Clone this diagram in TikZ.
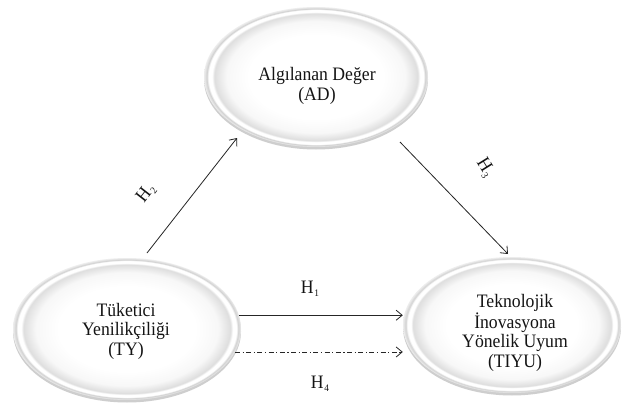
\documentclass[tikz,border=0pt]{standalone}
\usepackage{fontspec}
\setmainfont{Liberation Serif}
\newfontfamily\narrowserif[FakeStretch=0.93]{Liberation Serif}
\usetikzlibrary{shapes.geometric,arrows.meta,shadows,calc}
\pgfdeclareradialshading{ovalbevel}{\pgfpoint{0bp}{0bp}}{color(0bp)=(white); color(15bp)=(white); color(20bp)=(black!3); color(22.7bp)=(black!13); color(23.2bp)=(white); color(24bp)=(white); color(24.4bp)=(black!18); color(25bp)=(black!7); color(50bp)=(black!7)}
\newcommand{\hsub}[1]{H\kern0.6pt\raisebox{-3pt}{\fontsize{10}{10}\selectfont #1}}
\begin{document}
\begin{tikzpicture}[x=1pt,y=-1pt,
  var/.style={ellipse, inner sep=0pt, shading=ovalbevel,
    drop shadow={shadow xshift=0pt, shadow yshift=-2.5pt, fill=black!35, opacity=0.55}},
  lbl/.style={font=\narrowserif\fontsize{19}{19.5}\selectfont, align=center, text=black!92, inner sep=0pt},
  hyp/.style={font=\narrowserif\fontsize{19}{19}\selectfont, text=black!92, inner sep=0pt},
  rel/.style={draw=black!85, line width=0.8pt, -{Straight Barb[length=6pt,width=10pt]}},
  dashdot/.style={dash pattern=on 5pt off 2.5pt on 1.2pt off 2.5pt}
]
\fill[white] (0,0) rectangle (622,407);
\useasboundingbox (0,0) rectangle (622,407);

\node[var, minimum width=224pt, minimum height=140pt] (ad) at (316,77) {};
\node[var, minimum width=228pt, minimum height=142pt] (ty) at (127,329) {};
\node[var, minimum width=218pt, minimum height=136pt] (tiyu) at (512,325) {};

\node[lbl] (adtxt) at (317,86) {Algılanan Değer\\(AD)};
\node[lbl] (tytxt) at (126,331) {Tüketici\\Yenilikçiliği\\(TY)};
\node[lbl] (tiyutxt) at (515,333) {Teknolojik\\İnovasyona\\Yönelik Uyum\\(TIYU)};

\draw[rel] ($(ty.center)+(20,-76)$) -- ($(ad.center)+(-79,61)$);
\draw[rel] ($(ad.center)+(84,65)$) -- ($(tiyu.center)+(-4,-71)$);
\draw[rel] (ty.7) -- (tiyu.west |- ty.7);
\draw[rel, dashdot] (ty.348) -- (tiyu.west |- ty.348);

\node[hyp] (h1) at (310,289) {\hsub{1}};
\node[hyp] (h4) at (320,384) {\hsub{4}};
\node[hyp, rotate=52] (h2) at (146,193) {\hsub{2}};
\node[hyp, rotate=-58] (h3) at (485,168) {\hsub{3}};
\end{tikzpicture}
\end{document}
